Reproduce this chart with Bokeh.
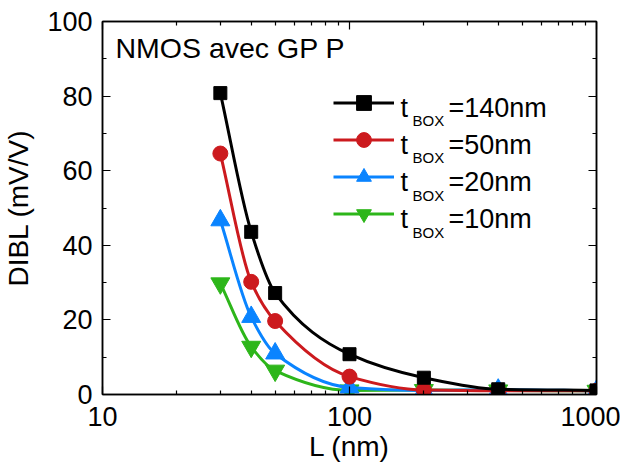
import numpy as np
from bokeh.plotting import figure
from bokeh.models import (FixedTicker, LogAxis, LinearAxis, Label, Legend,
                          LegendItem, CustomJSTickFormatter)
from bokeh.embed import file_html
from bokeh.resources import INLINE

# ---------------- data ----------------
L_nm = [30, 40, 50, 100, 200, 400, 1000]
dibl_tbox140 = [80.8, 43.6, 27.2, 10.8, 4.5, 1.4, 1.1]
dibl_tbox50 = [64.6, 30.2, 19.7, 4.8, 1.2, 1.0, 1.0]
dibl_tbox20 = [46.7, 20.8, 11.0, 1.9, 1.1, 1.3, 1.0]
dibl_tbox10 = [29.8, 12.8, 6.4, 1.1, 1.2, 1.1, 1.0]
series_values = [dibl_tbox140, dibl_tbox50, dibl_tbox20, dibl_tbox10]
series_suffix = ["=140nm", "=50nm", "=20nm", "=10nm"]
series_colors = ["#000000", "#CC1A1E", "#0A84FF", "#2DB61A"]
series_markers = ["square", "circle", "triangle", "inverted_triangle"]
series_msize = [13, 15, 19, 19]

x_ticks = [10, 100, 1000]
x_minor = [20, 30, 40, 50, 60, 70, 80, 90, 200, 300, 400, 500, 600, 700, 800, 900]
y_ticks = [0, 20, 40, 60, 80, 100]
y_minor = [10, 30, 50, 70, 90]

FONT = "Liberation Sans"


def smooth_beziers(xs, ys):
    """Monotone cubic Hermite (PCHIP) segments in log10(x) space as Bezier control points."""
    u = np.log10(np.asarray(xs, dtype=float))
    y = np.asarray(ys, dtype=float)
    n = len(u)
    h = np.diff(u)
    d = np.diff(y) / h
    m = np.zeros(n)
    m[0] = d[0]
    m[-1] = d[-1]
    for k in range(1, n - 1):
        if d[k - 1] * d[k] <= 0:
            m[k] = 0.0
        else:
            w1 = 2 * h[k] + h[k - 1]
            w2 = h[k] + 2 * h[k - 1]
            m[k] = (w1 + w2) / (w1 / d[k - 1] + w2 / d[k])
    x0 = 10 ** u[:-1]
    x1 = 10 ** u[1:]
    cx0 = 10 ** (u[:-1] + h / 3)
    cx1 = 10 ** (u[1:] - h / 3)
    cy0 = y[:-1] + m[:-1] * h / 3
    cy1 = y[1:] - m[1:] * h / 3
    return dict(x0=x0, y0=y[:-1], x1=x1, y1=y[1:], cx0=cx0, cy0=cy0, cx1=cx1, cy1=cy1)


p = figure(x_axis_type="log", x_range=(10, 1000), y_range=(0, 100),
           frame_width=494, frame_height=373, output_backend="svg", toolbar_location=None)
p.min_border_left = 93
p.min_border_right = 24
p.min_border_top = 21
p.min_border_bottom = 76
p.xgrid.visible = False
p.ygrid.visible = False
p.outline_line_color = "black"
p.outline_line_width = 1.5
p.background_fill_color = "white"
p.border_fill_color = "white"

# axes
p.xaxis.ticker = FixedTicker(ticks=x_ticks, minor_ticks=x_minor)
p.xaxis.formatter = CustomJSTickFormatter(code="return tick.toFixed(0)")
p.yaxis.ticker = FixedTicker(ticks=y_ticks, minor_ticks=y_minor)
p.xaxis.axis_label = "L (nm)"
p.yaxis.axis_label = "DIBL (mV/V)"
for ax in [p.xaxis[0], p.yaxis[0]]:
    ax.axis_label_text_font = FONT
    ax.axis_label_text_font_style = "normal"
    ax.axis_label_text_font_size = "28px"
    ax.axis_label_text_color = "black"
    ax.major_label_text_font = FONT
    ax.major_label_text_font_size = "27px"
    ax.major_label_text_color = "black"
    ax.major_tick_in = 8
    ax.major_tick_out = 0
    ax.minor_tick_in = 4
    ax.minor_tick_out = 0
    ax.axis_line_width = 1.5
    ax.major_tick_line_width = 1.2
    ax.minor_tick_line_width = 1.2
p.yaxis.major_label_standoff = 10
p.yaxis.axis_label_standoff = 10
p.xaxis.major_label_standoff = 12
p.xaxis.axis_label_standoff = 2


def mirror(kind):
    common = dict(major_label_text_font_size="2px", major_label_text_alpha=0,
                  major_label_standoff=0, major_tick_in=8, major_tick_out=0,
                  minor_tick_in=4, minor_tick_out=0, axis_line_width=1.5,
                  major_tick_line_width=1.2, minor_tick_line_width=1.2)
    if kind == "x":
        return LogAxis(ticker=FixedTicker(ticks=x_ticks, minor_ticks=x_minor), **common)
    return LinearAxis(ticker=FixedTicker(ticks=y_ticks, minor_ticks=y_minor), **common)


p.add_layout(mirror("x"), "above")
p.add_layout(mirror("y"), "right")

# series (drawn in reverse so that tBOX=140nm is on top)
renderers = {}
for i in reversed(range(len(series_values))):
    vals = series_values[i]
    col = series_colors[i]
    seg = smooth_beziers(L_nm, vals)
    br = p.bezier(line_color=col, line_width=3, **seg)
    sr = p.scatter(L_nm, vals, marker=series_markers[i], size=series_msize[i],
                   fill_color=col, line_color=col, line_width=1)
    renderers[i] = (br, sr)
items = [LegendItem(label=" ", renderers=list(renderers[i])) for i in range(len(series_values))]

legend = Legend(items=items, location=(231, 162), glyph_width=61, glyph_height=37,
                label_height=37, spacing=0, padding=0, margin=0, label_standoff=0,
                label_text_font_size="8px", border_line_alpha=0,
                background_fill_alpha=0)
p.add_layout(legend)

# legend texts: t_BOX=...  (vertical positions are the cap-height centres)
row_step = 37.3
for i, suffix in enumerate(series_suffix):
    mid = 287 - i * row_step
    p.add_layout(Label(x=298, y=mid, x_units="screen", y_units="screen", text="t",
                       text_font=FONT, text_font_size="27px", text_color="black",
                       text_baseline="middle"))
    p.add_layout(Label(x=310, y=mid - 13, x_units="screen", y_units="screen", text="BOX",
                       text_font=FONT, text_font_size="15px", text_color="black",
                       text_baseline="middle"))
    p.add_layout(Label(x=346, y=mid, x_units="screen", y_units="screen", text=suffix,
                       text_font=FONT, text_font_size="27px", text_color="black",
                       text_baseline="middle"))

p.add_layout(Label(x=13, y=347, x_units="screen", y_units="screen", text="NMOS avec GP P",
                   text_font=FONT, text_font_size="28.5px", text_color="black",
                   text_baseline="middle"))

open("out.html", "w").write(file_html(p, INLINE))
